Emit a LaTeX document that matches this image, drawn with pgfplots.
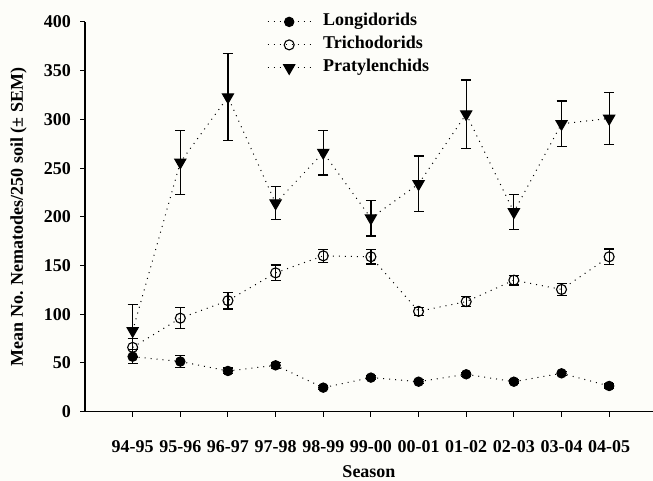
\documentclass[border=0pt]{standalone}
\usepackage{fontspec}
\setmainfont{Liberation Serif}
\usepackage{pgfplots}
\pgfplotsset{compat=1.18}
\usetikzlibrary{backgrounds}
\definecolor{bgc}{RGB}{253,253,249}
\begin{document}
\begin{tikzpicture}
\fontsize{18}{21.6}\selectfont\bfseries
\begin{axis}[
 name=ax,
 scale only axis, width=568pt, height=389.7pt,
 xmin=-1, xmax=10.92, ymin=0, ymax=400,
 axis x line=bottom, axis y line=left,
 axis line style={-, line width=1.1pt},
 xtick={0,...,10},
 xticklabels={94-95,95-96,96-97,97-98,98-99,99-00,00-01,01-02,02-03,03-04,04-05},
 ytick={0,50,...,400},
 tick align=outside, major tick length=5pt,
 tick style={line width=1pt, black},
 /pgf/number format/assume math mode=true,
 ticklabel style={font=\fontsize{18}{21.6}\selectfont\bfseries},
 xticklabel style={anchor=base, inner sep=0pt, yshift=-36.3pt},
 yticklabel style={anchor=east, inner sep=0pt, xshift=-9pt},
 every axis y label/.style={at={(axis description cs:-0.1171,0.5)}, rotate=90, anchor=center},
 every axis x label/.style={at={(axis description cs:0.5,-0.154)}, anchor=center},
 ylabel={Mean No. Nematodes/250 soil (\textpm{} SEM)},
 xlabel={Season},
 legend style={draw=none, fill=none, at={(axis description cs:0.3204,1.0213)}, anchor=north west,
   inner sep=0pt, row sep=7pt, column sep=12pt,
   nodes={inner sep=0pt, text height=12pt, text depth=4pt, anchor=west},
   font=\fontsize{18}{21.6}\selectfont\bfseries},
 legend cell align=left,
 legend image code/.code={\draw[mark repeat=2,mark phase=2,#1] plot coordinates {(0pt,0pt) (21.5pt,0pt) (43pt,0pt)};},
 error bars/error bar style={solid, line width=1.2pt, black},
 error bars/error mark options={solid, line width=1.2pt, black, mark size=5pt, rotate=90},
]
\addplot[black, line width=1pt, dash pattern=on 1pt off 5pt,
  mark=*, mark size=4.7pt, mark options={solid, draw=black, fill=black},
  error bars/.cd, y dir=both, y explicit]
 table[x=x, y=y, y error=e] {
x y e
0 56.5 7
1 51.5 6
2 41.8 3
3 47.6 3
4 24.7 2
5 35 2
6 30.8 2
7 38.4 2
8 30.8 2
9 39.4 2
10 26.4 2
};
\addlegendentry{Longidorids}
\addplot[black, line width=1pt, dash pattern=on 1pt off 5pt,
  mark=o, mark size=5pt, mark options={solid, draw=black, fill=white, line width=1.1pt},
  error bars/.cd, y dir=both, y explicit]
 table[x=x, y=y, y error=e] {
x y e
0 66 9
1 96 11
2 114 8.5
3 142.5 8
4 160 6.5
5 159 7.5
6 103 4
7 113 5
8 135 5
9 125.5 6
10 159 8
};
\addlegendentry{Trichodorids}
\addplot[black, line width=1pt, dash pattern=on 1pt off 5pt,
  mark=triangle*, mark size=6.5pt, mark options={solid, draw=black, fill=black, rotate=180},
  error bars/.cd, y dir=both, y explicit]
 table[x=x, y=y, y error=e] {
x y e
0 83 27
1 256 33
2 323 45
3 214 17
4 266 23
5 198.7 18.3
6 233.8 28.7
7 305.5 35
8 205 17.6
9 295.5 23.5
10 301 27
};
\addlegendentry{Pratylenchids}
\end{axis}
\pgfresetboundingbox
\path[use as bounding box] ([shift={(-85pt,-69.3pt)}]ax.south west) rectangle ([shift={(0pt,22pt)}]ax.north east);
\begin{pgfonlayer}{background}
\fill[bgc] ([shift={(-85pt,-69.3pt)}]ax.south west) rectangle ([shift={(0pt,22pt)}]ax.north east);
\end{pgfonlayer}
\end{tikzpicture}
\end{document}
